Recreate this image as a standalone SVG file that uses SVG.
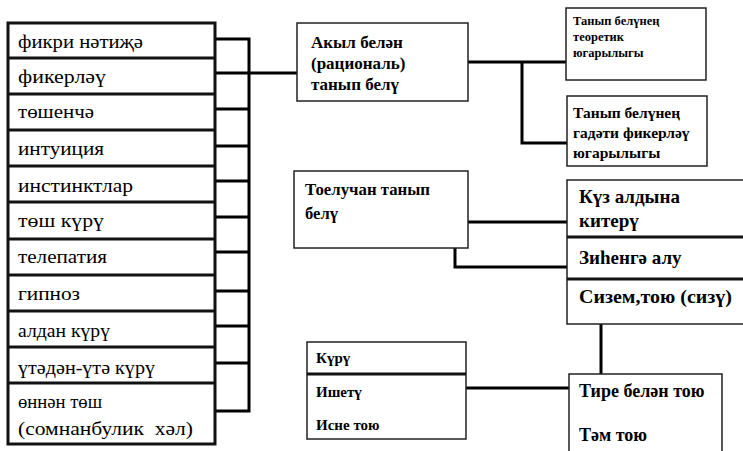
<svg xmlns="http://www.w3.org/2000/svg" width="743" height="451" viewBox="0 0 743 451" font-family="'Liberation Serif', 'DejaVu Serif', serif">
<style>
.b{fill:#fff;stroke:#222;stroke-width:1.5}
.L{fill:#fff;stroke:#111;stroke-width:3}
.c{fill:none;stroke:#000;stroke-width:3}
.d{stroke:#111;stroke-width:3}
text{fill:#000}
.r{font-size:19px}
.bd{font-weight:bold}
</style>
<rect width="743" height="451" fill="#fff"/>
<g id="connectors">
<polyline class="c" points="215,39 249,39 249,411 215,411"/>
<line class="c" x1="215" y1="73" x2="297" y2="73"/>
<line class="c" x1="215" y1="109" x2="249" y2="109"/>
<line class="c" x1="215" y1="146" x2="249" y2="146"/>
<line class="c" x1="215" y1="181" x2="249" y2="181"/>
<line class="c" x1="215" y1="217" x2="249" y2="217"/>
<line class="c" x1="215" y1="252" x2="249" y2="252"/>
<line class="c" x1="215" y1="291" x2="249" y2="291"/>
<line class="c" x1="215" y1="326" x2="249" y2="326"/>
<line class="c" x1="215" y1="363" x2="249" y2="363"/>
<line class="c" x1="468" y1="62" x2="566" y2="62"/>
<polyline class="c" points="522,62 522,143 567,143"/>
<line class="c" x1="468" y1="222" x2="567" y2="222"/>
<polyline class="c" points="455,248 455,267 567,267"/>
<line class="c" x1="601" y1="324" x2="601" y2="374"/>
<line class="c" x1="466" y1="388" x2="569" y2="388"/>
</g>
<g id="left-list">
<rect class="L" x="8" y="23" width="207" height="421"/>
<line class="d" x1="8" y1="58" x2="215" y2="58"/>
<line class="d" x1="8" y1="94" x2="215" y2="94"/>
<line class="d" x1="8" y1="130" x2="215" y2="130"/>
<line class="d" x1="8" y1="166" x2="215" y2="166"/>
<line class="d" x1="8" y1="202" x2="215" y2="202"/>
<line class="d" x1="8" y1="239" x2="215" y2="239"/>
<line class="d" x1="8" y1="275" x2="215" y2="275"/>
<line class="d" x1="8" y1="311" x2="215" y2="311"/>
<line class="d" x1="8" y1="347" x2="215" y2="347"/>
<line class="d" x1="8" y1="383" x2="215" y2="383"/>
<text class="r" x="18" y="48" textLength="125" lengthAdjust="spacingAndGlyphs">фикри нәтиҗә</text>
<text class="r" x="18" y="83" textLength="88" lengthAdjust="spacingAndGlyphs">фикерләү</text>
<text class="r" x="18" y="118" textLength="76" lengthAdjust="spacingAndGlyphs">төшенчә</text>
<text class="r" x="18" y="155" textLength="86" lengthAdjust="spacingAndGlyphs">интуиция</text>
<text class="r" x="18" y="192" textLength="115" lengthAdjust="spacingAndGlyphs">инстинктлар</text>
<text class="r" x="18" y="227" textLength="86" lengthAdjust="spacingAndGlyphs">төш күрү</text>
<text class="r" x="18" y="263" textLength="89" lengthAdjust="spacingAndGlyphs">телепатия</text>
<text class="r" x="18" y="300" textLength="62" lengthAdjust="spacingAndGlyphs">гипноз</text>
<text class="r" x="18" y="337" textLength="92" lengthAdjust="spacingAndGlyphs">алдан күрү</text>
<text class="r" x="18" y="374" textLength="137" lengthAdjust="spacingAndGlyphs">үтәдән-үтә күрү</text>
<text class="r" x="18" y="408" textLength="84" lengthAdjust="spacingAndGlyphs">өннән төш</text>
<text class="r" x="18" y="435" xml:space="preserve" textLength="175" lengthAdjust="spacingAndGlyphs">(сомнанбулик  хәл)</text>
</g>
<g id="akyl">
<rect class="b" x="297" y="23" width="171" height="78"/>
<text class="bd" x="311" y="48" font-size="17">Акыл белән</text>
<text class="bd" x="311" y="69" font-size="17">(рациональ)</text>
<text class="bd" x="311" y="90" font-size="17">танып белү</text>
</g>
<g id="teoretik">
<rect class="b" x="566" y="8" width="140" height="72"/>
<text class="bd" x="573" y="25" font-size="12.5">Танып белүнең</text>
<text class="bd" x="573" y="41" font-size="12.5">теоретик</text>
<text class="bd" x="573" y="57" font-size="12.5">югарылыгы</text>
</g>
<g id="gadati">
<rect class="b" x="567" y="96" width="140" height="70"/>
<text class="bd" x="573" y="118" font-size="15.5">Танып белүнең</text>
<text class="bd" x="573" y="138" font-size="15.5">гадәти фикерләү</text>
<text class="bd" x="573" y="158" font-size="15.5">югарылыгы</text>
</g>
<g id="toeluchan">
<rect class="b" x="294" y="171" width="174" height="77"/>
<text class="bd" x="305" y="195" font-size="17" textLength="125" lengthAdjust="spacingAndGlyphs">Тоелучан танып</text>
<text class="bd" x="305" y="219" font-size="17" textLength="33" lengthAdjust="spacingAndGlyphs">белү</text>
</g>
<g id="sense-stack">
<rect class="b" x="567" y="180" width="180" height="144"/>
<line class="d" x1="567" y1="237" x2="743" y2="237"/>
<line class="d" x1="567" y1="279" x2="743" y2="279"/>
<text class="bd" x="579" y="203" font-size="19">Күз алдына</text>
<text class="bd" x="579" y="227" font-size="19">китерү</text>
<text class="bd" x="579" y="264" font-size="19">Зиһенгә алу</text>
<text class="bd" x="579" y="303" font-size="19" textLength="153" lengthAdjust="spacingAndGlyphs">Сизем,тою (сизү)</text>
</g>
<g id="tire">
<rect class="b" x="569" y="374" width="153" height="90"/>
<text class="bd" x="579" y="397" font-size="18">Тире белән тою</text>
<text class="bd" x="579" y="441" font-size="18">Тәм тою</text>
</g>
<g id="kuru">
<rect class="b" x="307" y="342" width="159" height="97"/>
<line class="d" x1="307" y1="374" x2="466" y2="374"/>
<text class="bd" x="316" y="363" font-size="15">Күрү</text>
<text class="bd" x="316" y="397" font-size="15">Ишетү</text>
<text class="bd" x="316" y="430" font-size="15">Исне тою</text>
</g>
</svg>
